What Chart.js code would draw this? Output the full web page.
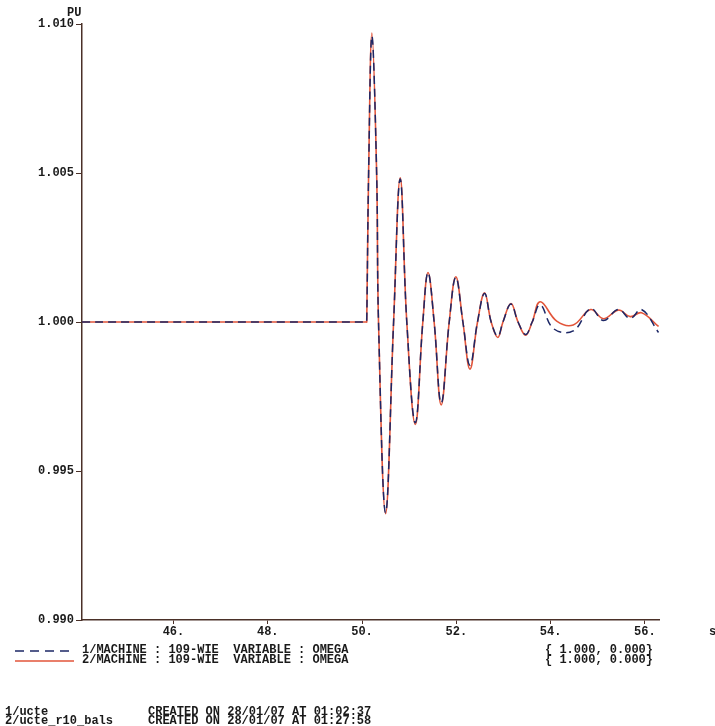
<!DOCTYPE html>
<html>
<head>
<meta charset="utf-8">
<script src="https://cdn.jsdelivr.net/npm/chart.js@4/dist/chart.umd.min.js"></script>
<style>
  html, body { margin: 0; padding: 0; background: #fff; }
  #wrap { width: 715px; height: 726px; position: relative; }
</style>
</head>
<body>
<div id="wrap"><canvas id="omegaChart" width="715" height="726"></canvas></div>
<script>
// time (s) and speed (pu)
const timeRed = [44.06, 50.09, 50.10, 50.14, 50.21, 50.31, 50.35, 50.50, 50.67, 50.81, 50.95, 51.13, 51.29, 51.40, 51.53, 51.68, 51.85, 51.99, 52.14, 52.29, 52.45, 52.60, 52.74, 52.88, 52.99, 53.16, 53.31, 53.47, 53.61, 53.78, 54.13, 54.48, 54.85, 55.12, 55.44, 55.69, 55.93, 56.29];
const omegaRed = [1.0000, 1.0000, 1.0000, 1.0050, 1.0097, 1.0050, 1.0000, 0.99357, 1.0000, 1.00484, 1.0000, 0.99656, 1.0000, 1.00166, 1.0000, 0.99722, 1.0000, 1.00152, 1.0000, 0.99842, 1.0000, 1.00098, 1.0000, 0.99948, 1.0000, 1.00062, 1.0000, 0.99956, 1.0000, 1.00068, 1.00003, 0.99990, 1.00042, 1.00011, 1.00040, 1.00018, 1.00031, 0.99985];

const timeBlue = [44.06, 50.09, 50.10, 50.14, 50.21, 50.31, 50.35, 50.50, 50.67, 50.81, 50.95, 51.13, 51.29, 51.40, 51.53, 51.68, 51.85, 51.99, 52.14, 52.29, 52.45, 52.60, 52.74, 52.88, 52.99, 53.16, 53.31, 53.47, 53.61, 53.78, 54.06, 54.48, 54.85, 55.12, 55.44, 55.69, 55.93, 56.29];
const omegaBlue = [1.0000, 1.0000, 1.0000, 1.0050, 1.0096, 1.0050, 1.0000, 0.99360, 1.0000, 1.00480, 1.0000, 0.99662, 1.0000, 1.00166, 1.0000, 0.99728, 1.0000, 1.00150, 1.0000, 0.99855, 1.0000, 1.00096, 1.0000, 0.99952, 1.0000, 1.00060, 1.0000, 0.99958, 1.0000, 1.00058, 0.99978, 0.99970, 1.00045, 1.00005, 1.00042, 1.00012, 1.00042, 0.99965];

const xTicks = [46, 48, 50, 52, 54, 56];
const yTicks = [0.990, 0.995, 1.000, 1.005, 1.010];

const legendLines = ['1/MACHINE : 109-WIE  VARIABLE : OMEGA', '2/MACHINE : 109-WIE  VARIABLE : OMEGA'];
const legendScale = ['{ 1.000, 0.000}', '{ 1.000, 0.000}'];
const footerFiles = ['1/ucte', '2/ucte_r10_bals'];
const footerDates = ['CREATED ON 28/01/07 AT 01:02:37', 'CREATED ON 28/01/07 AT 01:27:58'];

const RED = '#e2553a';
const BLUE = '#1c2766';
const AXIS = '#4a3028';
const TEXT = '#1a1a1a';
const FONT = 'bold 12px "Liberation Mono", monospace';

function toPoints(xs, ys) {
    return xs.map((x, i) => ({ x: x, y: ys[i] }));
}

// extra text: unit labels, legend and file footer
const annotations = {
    id: 'annotations',
    afterDraw(chart) {
        const ctx = chart.ctx;
        ctx.save();
        ctx.fillStyle = TEXT;
        ctx.font = FONT;
        ctx.textBaseline = 'alphabetic';
        ctx.textAlign = 'left';
        ctx.fillText('PU', 67, 16);
        ctx.fillText('s', 709, 635);

        // legend samples
        ctx.lineWidth = 1.5;
        ctx.strokeStyle = BLUE;
        ctx.setLineDash([9, 6]);
        ctx.beginPath();
        ctx.moveTo(15, 651);
        ctx.lineTo(74, 651);
        ctx.stroke();
        ctx.setLineDash([]);
        ctx.strokeStyle = RED;
        ctx.beginPath();
        ctx.moveTo(15, 661);
        ctx.lineTo(74, 661);
        ctx.stroke();

        legendLines.forEach((t, i) => ctx.fillText(t, 82, 653 + i * 10));
        legendScale.forEach((t, i) => ctx.fillText(t, 545, 653 + i * 10));

        footerFiles.forEach((t, i) => ctx.fillText(t, 5, 715 + i * 9));
        footerDates.forEach((t, i) => ctx.fillText(t, 148, 715 + i * 9));
        ctx.restore();
    }
};

document.addEventListener('DOMContentLoaded', function() {
    const ctx = document.getElementById('omegaChart').getContext('2d');

    const omegaChart = new Chart(ctx, {
        type: 'line',
        data: {
            datasets: [{
                label: '1/MACHINE : 109-WIE VARIABLE : OMEGA',
                data: toPoints(timeBlue, omegaBlue),
                borderColor: BLUE,
                borderWidth: 1.5,
                borderDash: [8, 5],
                pointRadius: 0,
                tension: 0.4,
                fill: false
            }, {
                label: '2/MACHINE : 109-WIE VARIABLE : OMEGA',
                data: toPoints(timeRed, omegaRed),
                borderColor: RED,
                borderWidth: 1.6,
                pointRadius: 0,
                tension: 0.4,
                fill: false
            }]
        },
        options: {
            responsive: false,
            animation: false,
            layout: {
                padding: { left: 0, top: 24, right: 56, bottom: 86 }
            },
            plugins: {
                legend: { display: false },
                tooltip: { enabled: false }
            },
            scales: {
                x: {
                    type: 'linear',
                    min: 44.06,
                    max: 56.30,
                    afterBuildTicks: function(scale) {
                        scale.ticks = xTicks.map(v => ({ value: v }));
                    },
                    afterFit: function(scale) {
                        scale.height = 20;
                    },
                    ticks: {
                        color: TEXT,
                        font: { family: '"Liberation Mono", monospace', size: 12, weight: 'bold' },
                        padding: 1,
                        maxRotation: 0,
                        callback: function(value) {
                            return value + '.';
                        }
                    },
                    grid: {
                        drawOnChartArea: false,
                        drawTicks: true,
                        tickLength: 4,
                        color: AXIS
                    },
                    border: { display: true, color: AXIS, width: 1.5 }
                },
                y: {
                    min: 0.990,
                    max: 1.010,
                    afterBuildTicks: function(scale) {
                        scale.ticks = yTicks.map(v => ({ value: v }));
                    },
                    afterFit: function(scale) {
                        scale.width = 82;
                    },
                    ticks: {
                        color: TEXT,
                        font: { family: '"Liberation Mono", monospace', size: 12, weight: 'bold' },
                        padding: 2,
                        callback: function(value) {
                            return value.toFixed(3);
                        }
                    },
                    grid: {
                        drawOnChartArea: false,
                        drawTicks: true,
                        tickLength: 6,
                        color: AXIS
                    },
                    border: { display: true, color: AXIS, width: 1.5 }
                }
            }
        },
        plugins: [annotations]
    });
});
</script>
</body>
</html>
